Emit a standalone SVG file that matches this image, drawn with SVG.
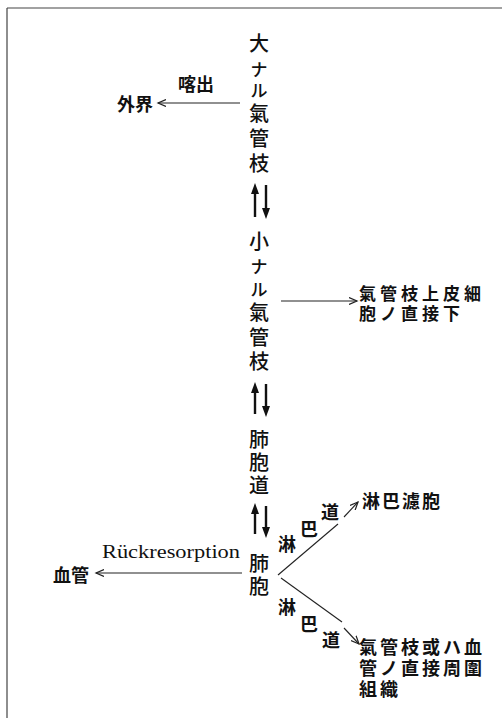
<svg xmlns="http://www.w3.org/2000/svg" width="502" height="718" viewBox="0 0 502 718">
<style>
.col{font-family:"Noto Sans CJK JP","Noto Sans CJK SC",sans-serif;font-size:20px;font-weight:500;fill:#111;text-anchor:middle;dominant-baseline:central}
.kana{font-size:17px}
.lb{font-family:"Noto Sans CJK JP","Noto Sans CJK SC",sans-serif;font-size:18px;font-weight:700;fill:#111;dominant-baseline:central}
.sm{font-size:17px;letter-spacing:4px}
.lt{font-family:"Noto Sans CJK JP","Noto Sans CJK SC",sans-serif;font-size:18px;font-weight:700;fill:#111;dominant-baseline:central;text-anchor:middle}
.ln{stroke:#222;stroke-width:1.1;fill:none}
.bold{stroke:#111;stroke-width:2.4;fill:none}
.head{fill:#111}
.frame{stroke:#444;stroke-width:1.2;fill:none}
</style>
<defs>
<marker id="ah" markerUnits="userSpaceOnUse" markerWidth="10" markerHeight="8" refX="8" refY="4" orient="auto">
<path d="M0,0.5 L8,4 L0,7.5" fill="none" stroke="#222" stroke-width="1.2"/>
</marker>
</defs>
<g id="frame">
<path class="frame" d="M7,8 H502 M7,8 V718"/>
</g>
<g id="n-large-bronchi">
<text class="col" x="259" y="42">大</text>
<text class="col kana" x="259" y="68">ナ</text>
<text class="col kana" x="259" y="89">ル</text>
<text class="col" x="259" y="112">氣</text>
<text class="col" x="259" y="137">管</text>
<text class="col" x="259" y="162">枝</text>
</g>
<g id="n-small-bronchi">
<text class="col" x="259" y="240">小</text>
<text class="col kana" x="259" y="265">ナ</text>
<text class="col kana" x="259" y="288">ル</text>
<text class="col" x="259" y="311">氣</text>
<text class="col" x="259" y="336">管</text>
<text class="col" x="259" y="360">枝</text>
</g>
<g id="n-alveolar-duct">
<text class="col" x="259" y="438">肺</text>
<text class="col" x="259" y="461">胞</text>
<text class="col" x="259" y="484">道</text>
</g>
<g id="n-alveoli">
<text class="col" x="259" y="562">肺</text>
<text class="col" x="259" y="585">胞</text>
</g>
<g id="n-outside">
<text class="lb" x="117" y="103">外界</text>
</g>
<g id="n-epithelium">
<text class="lb sm" x="359" y="292">氣管枝上皮細</text>
<text class="lb sm" x="359" y="312">胞ノ直接下</text>
</g>
<g id="n-lymph-follicle">
<text class="lb" x="362" y="500" letter-spacing="2">淋巴濾胞</text>
</g>
<g id="n-tissue">
<text class="lb" x="359" y="646" letter-spacing="3">氣管枝或ハ血</text>
<text class="lb" x="359" y="667" letter-spacing="3">管ノ直接周圍</text>
<text class="lb" x="359" y="688" letter-spacing="3">組織</text>
</g>
<g id="n-blood-vessel">
<text class="lb" x="53" y="574">血管</text>
</g>
<g id="connectors">
<line class="ln" x1="240" y1="103" x2="158" y2="103" marker-end="url(#ah)"/>
<line class="ln" x1="281" y1="301" x2="357" y2="301" marker-end="url(#ah)"/>
<line class="ln" x1="242" y1="573" x2="96" y2="573" marker-end="url(#ah)"/>
<line class="ln" x1="278" y1="575" x2="338" y2="524"/>
<line class="ln" x1="344" y1="517" x2="358" y2="502" marker-end="url(#ah)"/>
<line class="ln" x1="281" y1="578" x2="342" y2="622"/>
<line class="ln" x1="344" y1="628" x2="359" y2="644" marker-end="url(#ah)"/>
<g id="bidir1">
<line class="bold" x1="255" y1="192" x2="255" y2="217"/>
<path class="head" d="M255,183 L251,194 L259,194 Z"/>
<line class="bold" x1="266" y1="185" x2="266" y2="210"/>
<path class="head" d="M266,219 L262,208 L270,208 Z"/>
</g>
<g id="bidir2">
<line class="bold" x1="255" y1="391" x2="255" y2="414"/>
<path class="head" d="M255,382 L251,393 L259,393 Z"/>
<line class="bold" x1="266" y1="384" x2="266" y2="407"/>
<path class="head" d="M266,417 L262,406 L270,406 Z"/>
</g>
<g id="bidir3">
<line class="bold" x1="255" y1="512" x2="255" y2="534"/>
<path class="head" d="M255,503 L251,514 L259,514 Z"/>
<line class="bold" x1="266" y1="506" x2="266" y2="528"/>
<path class="head" d="M266,538 L262,527 L270,527 Z"/>
</g>
<text class="lb" x="178" y="83">喀出</text>
<text x="102" y="558" font-family="Liberation Serif, serif" font-size="19" fill="#111" textLength="138" lengthAdjust="spacingAndGlyphs">Rückresorption</text>
<text class="lt" x="287" y="543">淋</text>
<text class="lt" x="309" y="528">巴</text>
<text class="lt" x="330" y="511">道</text>
<text class="lt" x="287" y="606">淋</text>
<text class="lt" x="309" y="623">巴</text>
<text class="lt" x="331" y="639">道</text>
</g>
</svg>
